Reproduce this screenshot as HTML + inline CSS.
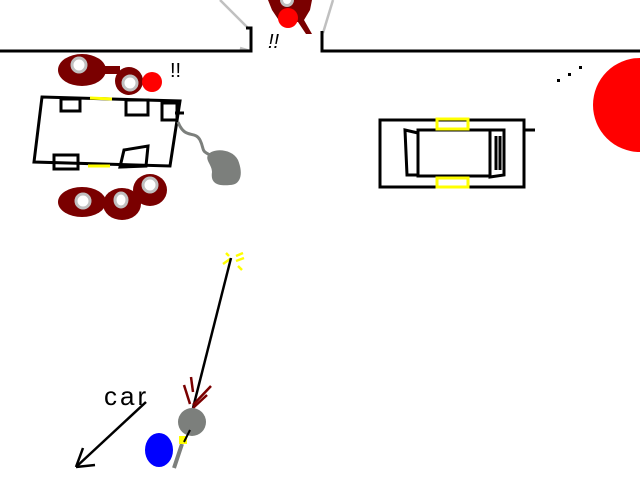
<!DOCTYPE html>
<html><head><style>html,body{margin:0;padding:0;background:#fff;width:640px;height:480px;overflow:hidden}</style></head>
<body>
<svg width="640" height="480" viewBox="0 0 640 480" xmlns="http://www.w3.org/2000/svg" font-family="Liberation Sans, sans-serif">
<rect width="640" height="480" fill="#fff"/>
<g stroke="#c0c0c0" stroke-width="2.5" fill="none">
<line x1="220" y1="0" x2="248" y2="28"/>
<line x1="333" y1="0" x2="323" y2="33"/>
<line x1="240" y1="48" x2="250" y2="51"/>
</g>
<g stroke="#000" stroke-width="3" fill="none">
<polyline points="0,51 251,51 251,28 246,28"/>
<polyline points="640,51 322,51 322,31"/>
</g>
<path d="M268,0 L312,0 L310,10 L304,20 L312,34 L306,34 L298,22 L280,22 L272,10 Z" fill="#7a0000"/>
<circle cx="287" cy="0" r="7" fill="#c0c0c0"/>
<circle cx="287" cy="0" r="4" fill="#fff"/>
<circle cx="288" cy="18" r="10" fill="#f00"/>
<text x="268" y="48" font-size="20" font-style="italic">!!</text>
<text x="170" y="77" font-size="20">!!</text>
<g fill="#7a0000">
<ellipse cx="82" cy="70" rx="24" ry="16"/>
<ellipse cx="129" cy="81" rx="14" ry="14"/>
<rect x="100" y="66" width="20" height="8"/>
<ellipse cx="82" cy="202" rx="24" ry="15"/>
<ellipse cx="122" cy="204" rx="19" ry="16"/>
<ellipse cx="150" cy="190" rx="17" ry="16"/>
</g>
<g fill="#fff" stroke="#c0c0c0" stroke-width="3">
<circle cx="79" cy="65" r="7"/>
<circle cx="130" cy="83" r="7"/>
<circle cx="83" cy="201" r="7"/>
<ellipse cx="121" cy="200" rx="6" ry="7"/>
<circle cx="150" cy="185" r="7"/>
</g>
<circle cx="152" cy="82" r="10" fill="#f00"/>
<g stroke="#000" stroke-width="3" fill="none">
<polygon points="42,97 180,101 170,166 34,162"/>
<rect x="61" y="99" width="19" height="12"/>
<rect x="126" y="100" width="22" height="15"/>
<rect x="162" y="103" width="15" height="17"/>
<rect x="54" y="155" width="24" height="14"/>
<polygon points="124,150 148,146 146,166 120,167"/>
<line x1="175" y1="113" x2="184" y2="113"/>
</g>
<line x1="90" y1="98" x2="112" y2="99" stroke="#ff0" stroke-width="3"/>
<line x1="88" y1="166" x2="110" y2="166" stroke="#ff0" stroke-width="3"/>
<path d="M178,122 C185,140 195,130 200,140 C205,150 200,150 210,155" stroke="#7c7f7c" stroke-width="3" fill="none"/>
<path d="M208,155 C212,148 232,148 238,160 C244,175 240,185 230,185 C220,186 210,185 212,172 C212,165 205,160 208,155 Z" fill="#7c7f7c"/>
<g stroke="#000" stroke-width="3" fill="none">
<rect x="380" y="120" width="144" height="67"/>
<rect x="418" y="130" width="72" height="46"/>
<polygon points="405,130 418,133 418,175 407,175"/>
<polygon points="490,130 504,130 504,175 490,177"/>
<line x1="496" y1="136" x2="496" y2="170"/>
<line x1="500" y1="136" x2="500" y2="170"/>
<line x1="524" y1="130" x2="535" y2="130"/>
</g>
<rect x="437" y="119" width="31" height="10" fill="none" stroke="#ff0" stroke-width="3"/>
<rect x="437" y="178" width="31" height="9" fill="none" stroke="#ff0" stroke-width="3"/>
<g fill="#000"><rect x="557" y="79" width="3" height="3"/><rect x="568" y="73" width="3" height="3"/><rect x="579" y="66" width="3" height="3"/></g>
<circle cx="640" cy="105" r="47" fill="#f00"/>
<g stroke="#ff0" stroke-width="2.5">
<line x1="223" y1="264" x2="230" y2="259"/><line x1="226" y1="253" x2="229" y2="256"/>
<line x1="236" y1="256" x2="243" y2="253"/><line x1="236" y1="261" x2="244" y2="258"/>
<line x1="238" y1="266" x2="242" y2="270"/>
</g>
<line x1="231" y1="258" x2="193" y2="408" stroke="#000" stroke-width="2.5"/>
<g stroke="#7a0000" stroke-width="2.5">
<line x1="193" y1="405" x2="211" y2="386"/><line x1="193" y1="408" x2="207" y2="395"/>
<line x1="190" y1="404" x2="184" y2="385"/><line x1="193" y1="392" x2="191" y2="377"/>
</g>
<circle cx="192" cy="422" r="14" fill="#7c7f7c"/>
<line x1="182" y1="444" x2="174" y2="468" stroke="#7c7f7c" stroke-width="4"/>
<rect x="179" y="436" width="8" height="8" fill="#ff0"/>
<line x1="190" y1="430" x2="184" y2="442" stroke="#000" stroke-width="2"/>
<ellipse cx="159" cy="450" rx="14" ry="17" fill="#00f"/>
<text x="104" y="405" font-size="26" letter-spacing="3">car</text>
<g stroke="#000" stroke-width="2.5" fill="none">
<line x1="146" y1="402" x2="76" y2="467"/>
<line x1="76" y1="467" x2="83" y2="448"/>
<line x1="76" y1="467" x2="95" y2="465"/>
</g>
</svg>
</body></html>
